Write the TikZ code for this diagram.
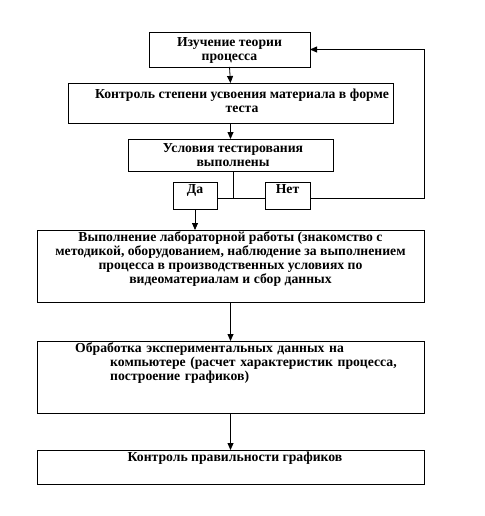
\documentclass[tikz,border=0pt]{standalone}
\usepackage{fontspec}
\setmainfont{Liberation Serif}
\usetikzlibrary{arrows.meta}
\tikzset{
  box/.style={draw, line width=0.9pt, rectangle, inner sep=0pt, outer sep=0pt},
  txt/.style={font=\fontsize{13.7}{14}\selectfont\bfseries, align=center, inner sep=0pt},
  link/.style={line width=0.8pt},
  arr/.style={line width=0.8pt, -{Triangle[width=6pt,length=7pt]}}
}
\begin{document}
\begin{tikzpicture}[x=1pt,y=-1pt]
\useasboundingbox (0,0) rectangle (484,516);
% boxes
\node[box, minimum width=161pt, minimum height=35pt] (b1) at (229.5,49.5) {};
\node[box, minimum width=325pt, minimum height=40pt] (b2) at (230.5,103) {};
\node[box, minimum width=205pt, minimum height=32pt] (b3) at (230.5,155) {};
\node[box, minimum width=44pt, minimum height=27pt] (da) at (195,195.5) {};
\node[box, minimum width=45pt, minimum height=27pt] (net) at (287.5,195.5) {};
\node[box, minimum width=387pt, minimum height=72pt] (b4) at (230.5,266) {};
\node[box, minimum width=387pt, minimum height=72pt] (b5) at (230.5,377) {};
\node[box, minimum width=387pt, minimum height=34pt] (b6) at (230.5,467) {};
% texts
\node[txt] (t1) at (229.5,50.5) {Изучение теории\\процесса};
\node[txt] (t2) at (242,100.5) {Контроль  степени усвоения материала в форме\\теста};
\node[txt] (t3) at (233,155.5) {Условия тестирования\\выполнены};
\node[txt, anchor=north] (tda) at (195,184) {Да};
\node[txt, anchor=north] (tnet) at (287.5,184) {Нет};
\node[txt, anchor=north] (t4) at (230.5,231) {Выполнение лабораторной работы (знакомство с\\методикой, оборудованием, наблюдение за выполнением\\процесса в производственных условиях по\\видеоматериалам и сбор данных};
\node[txt, anchor=north west, text width=310pt, align=left] (t5) at (110,342.5) {\hspace*{-35pt}Обработка экспериментальных данных на\\компьютере (расчет характеристик процесса,\\построение графиков)};
\node[txt, anchor=north] (t6) at (235,451.5) {Контроль правильности графиков};
% connectors
\coordinate (j) at (233,198);
\coordinate (c1) at (424,198);
\draw[arr] (b1.south) -- (b2.north);
\draw[arr] (b2.south) -- (b3.north);
\draw[link] (j |- b3.south) -- (j);
\draw[link] (da.east |- j) -- (net.west |- j);
\draw[link] (net.east |- j) -- (c1) -- (c1 |- b1.east);
\draw[arr] (c1 |- b1.east) -- (b1.east);
\draw[arr] (da.south) -- (da.south |- b4.north);
\draw[arr] (b4.south) -- (b5.north);
\draw[arr] (b5.south) -- (b6.north);
\end{tikzpicture}
\end{document}
